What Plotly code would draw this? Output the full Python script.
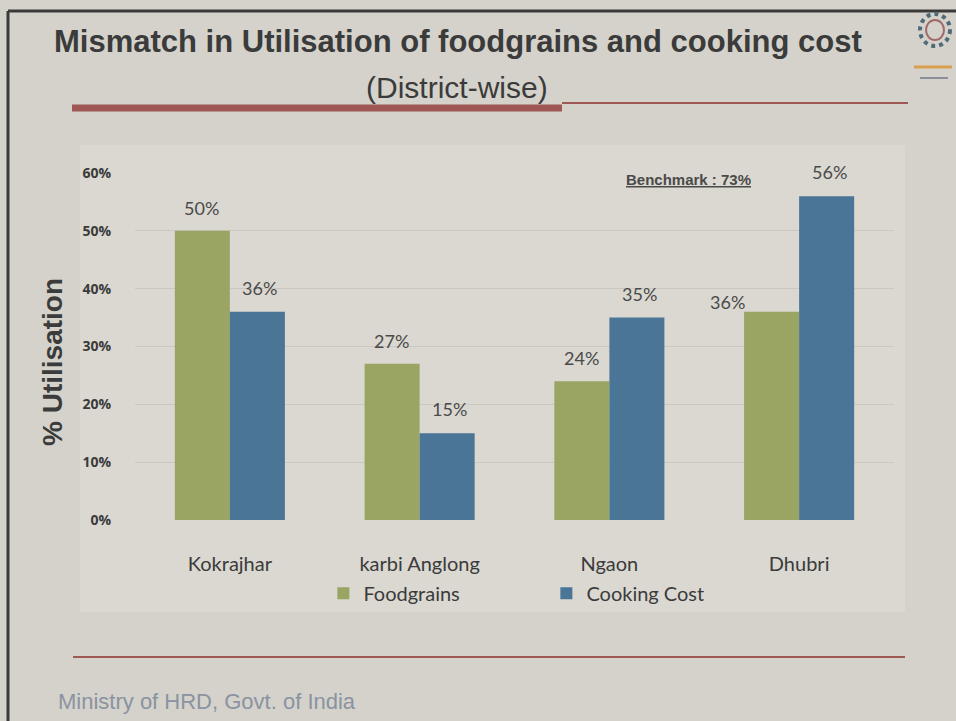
import plotly.graph_objects as go

districts = ["Kokrajhar", "karbi Anglong", "Ngaon", "Dhubri"]
foodgrains = [0.50, 0.27, 0.24, 0.36]
cooking_cost = [0.36, 0.15, 0.35, 0.56]
y_ticks = [0, 0.1, 0.2, 0.3, 0.4, 0.5, 0.6]

GREEN = "#9aa463"
BLUE = "#4b7597"
BG = "#d4d2ca"
LABEL_FONT = "Lato, Calibri, sans-serif"
HEAD_FONT = "Liberation Sans, Arial, sans-serif"

W, H = 956, 721
L, R, T, B = 135, 62, 173, 201
PW, PH = W - L - R, H - T - B

def px(x, y):
    # page pixel -> paper coords of the plot area
    return (x - L) / PW, (H - B - y) / PH

fig = go.Figure()
fig.add_trace(go.Bar(x=districts, y=foodgrains, name="Foodgrains",
                     marker=dict(color=GREEN, line=dict(width=0))))
fig.add_trace(go.Bar(x=districts, y=cooking_cost, name="Cooking Cost",
                     marker=dict(color=BLUE, line=dict(width=0))))

# data labels (Dhubri foodgrains label sits left of the bar in the original)
ann = []
lab_font = dict(size=18, color="#4a4a4a", family=LABEL_FONT)
for i, d in enumerate(districts):
    if i == 3:
        ann.append(dict(x=d, y=foodgrains[i], xref="x", yref="y", text=f"{foodgrains[i]:.0%}",
                        showarrow=False, xshift=-72, yshift=10, font=lab_font))
    else:
        ann.append(dict(x=d, y=foodgrains[i], xref="x", yref="y", text=f"{foodgrains[i]:.0%}",
                        showarrow=False, xshift=-28, yshift=23, font=lab_font))
    ann.append(dict(x=d, y=cooking_cost[i], xref="x", yref="y", text=f"{cooking_cost[i]:.0%}",
                    showarrow=False, xshift=30, yshift=24, font=lab_font))

text_items = [
    ("<b>Mismatch in Utilisation of foodgrains and cooking cost</b>", 458, 41, 31, "#3b3b3b", "center"),
    ("(District-wise)", 457, 88, 30, "#3b3b3b", "center"),
    ("Ministry of HRD, Govt. of India", 56, 701, 22, "#8a93a2", "left"),
    ("<b><u>Benchmark : 73%</u></b>", 688, 179, 15, "#4a4a4a", "center"),
]
for t, x, y, s, col, al in text_items:
    xx, yy = px(x, y)
    ann.append(dict(text=t, x=xx, y=yy, xref="paper", yref="paper", showarrow=False,
                    xanchor=al, yanchor="middle", font=dict(size=s, family=HEAD_FONT, color=col)))

# y axis title
xx, yy = px(52, 362)
ann.append(dict(text="<b>% Utilisation</b>", x=xx, y=yy, xref="paper", yref="paper",
                showarrow=False, textangle=-90, xanchor="center", yanchor="middle",
                font=dict(size=28, family=HEAD_FONT, color="#3b3b3b")))

shapes = []
def rect(x0, y0, x1, y1, kind="rect", **kw):
    a0, b0 = px(x0, y0)
    a1, b1 = px(x1, y1)
    shapes.append(dict(type=kind, xref="paper", yref="paper", x0=a0, y0=b1, x1=a1, y1=b0, **kw))

def line(x0, y0, x1, y1, color, width):
    a0, b0 = px(x0, y0)
    a1, b1 = px(x1, y1)
    shapes.append(dict(type="line", xref="paper", yref="paper", x0=a0, y0=b0, x1=a1, y1=b1,
                       line=dict(color=color, width=width), layer="above"))

# chart box
rect(80, 145, 905, 612, fillcolor="#dad8d1", line=dict(width=0), layer="below")
# page frame
line(8, 11, 956, 11, "#3a3a3a", 3)
line(8, 11, 8, 721, "#3a3a3a", 3)
# title rules
line(72, 108, 562, 108, "#a05855", 7)
line(562, 103, 908, 103, "#a05855", 2)
line(73, 657, 905, 657, "#a05855", 2)
# logo (rough)
rect(920, 14, 950, 46, kind="circle", line=dict(color="#4f6a78", width=4, dash="dot"),
     fillcolor="rgba(0,0,0,0)", layer="above")
rect(926, 20, 944, 40, kind="circle", line=dict(color="#a06a6a", width=2),
     fillcolor="rgba(0,0,0,0)", layer="above")
line(914, 67, 952, 67, "#d9a050", 3)
line(920, 78, 948, 78, "#8a8f99", 2)

fig.update_layout(
    width=W, height=H,
    margin=dict(l=L, r=R, t=T, b=B),
    paper_bgcolor=BG, plot_bgcolor="rgba(0,0,0,0)",
    barmode="group", bargap=0.42, bargroupgap=0,
    showlegend=True,
    legend=dict(orientation="h", x=0.542, xanchor="center", y=-0.155, yanchor="top",
                font=dict(size=20, family=LABEL_FONT, color="#3b3b3b"),
                bgcolor="rgba(0,0,0,0)", traceorder="normal", itemwidth=30,
                entrywidth=178, entrywidthmode="pixels"),
    annotations=ann, shapes=shapes,
    xaxis=dict(showgrid=False, showline=False, ticks="outside", ticklen=26,
               tickcolor="rgba(0,0,0,0)",
               tickfont=dict(size=20, family=LABEL_FONT, color="#3b3b3b")),
    yaxis=dict(range=[0, 0.6], tickvals=y_ticks, tickformat=".0%",
               gridcolor="#cac8c0", gridwidth=1, zeroline=False, showline=False,
               ticks="outside", ticklen=20, tickcolor="rgba(0,0,0,0)",
               tickfont=dict(size=14, family="Open Sans, Calibri, sans-serif", color="#3b3b3b",
                             weight="bold")),
)

fig.write_html("out.html", config={"displayModeBar": False},
               post_script="document.body.style.margin='0';")
